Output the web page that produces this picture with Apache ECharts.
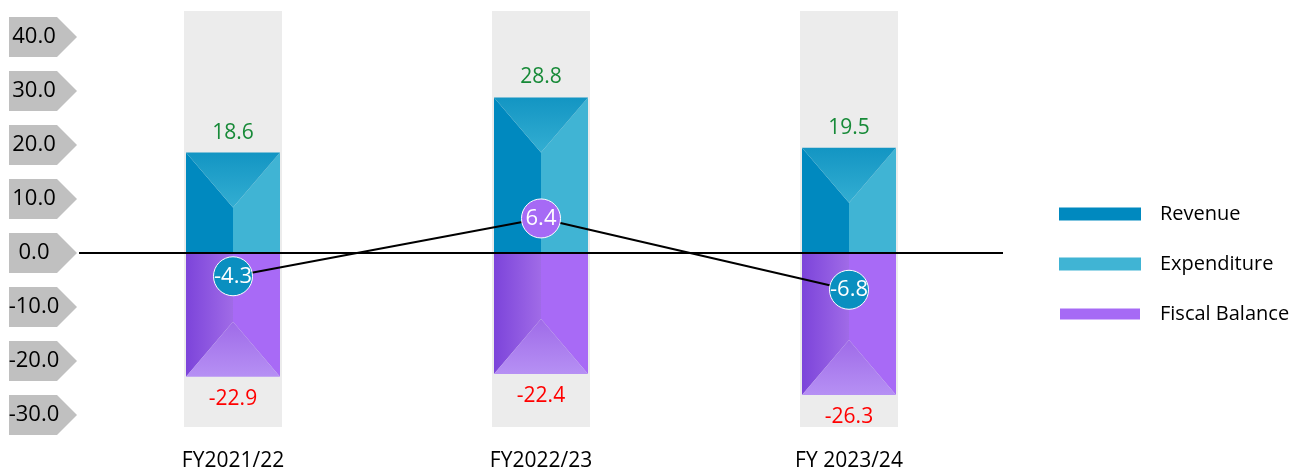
<!DOCTYPE html>
<html>
<head>
<meta charset="utf-8">
<script src="https://cdn.jsdelivr.net/npm/echarts@6/dist/echarts.min.js"></script>
<style>
  html, body { margin: 0; padding: 0; background: #fff; }
  #chart { width: 1305px; height: 476px; }
</style>
</head>
<body>
<div id="chart"></div>
<script>
var categories = ['FY2021/22', 'FY2022/23', 'FY 2023/24'];
var revenue = [18.6, 28.8, 19.5];
var expenditure = [-22.9, -22.4, -26.3];
var balance = [-4.3, 6.4, -6.8];
var yTicks = [-30, -20, -10, 0, 10, 20, 30, 40];

var FONT = 'Open Sans';
var Y_MIN = -32.2, Y_MAX = 44.8;

var chart = echarts.init(document.getElementById('chart'));

// 灰色背景柱
function renderBg(params, api) {
    var top = api.coord([api.value(0), Y_MAX]);
    var bot = api.coord([api.value(0), Y_MIN]);
    return {
        type: 'rect',
        shape: { x: top[0] - 49, y: top[1], width: 98, height: bot[1] - top[1] },
        style: { fill: '#ececec' }
    };
}

// 收入柱（上方）
function renderRevenue(params, api) {
    var p = api.coord([api.value(0), api.value(1)]);
    var z = api.coord([api.value(0), 0]);
    var cx = p[0], x0 = cx - 47, x1 = cx + 47, yT = p[1], yB = z[1];
    var d = Math.min(55, yB - yT);
    return {
        type: 'group',
        children: [
            { type: 'polygon', shape: { points: [[x0, yT], [cx, yT + d], [cx, yB], [x0, yB]] }, style: { fill: '#0089bf' } },
            { type: 'polygon', shape: { points: [[x1, yT], [x1, yB], [cx, yB], [cx, yT + d]] }, style: { fill: '#40b4d4' } },
            { type: 'polygon', shape: { points: [[x0, yT], [x1, yT], [cx, yT + d]] },
              style: { fill: new echarts.graphic.LinearGradient(0, 0, 0, 1, [
                  { offset: 0, color: '#1395c3' }, { offset: 1, color: '#33aed2' }]) } },
            { type: 'text', style: { x: cx, y: yT - 20, text: api.value(1).toFixed(1), fill: '#178a38',
                  font: '21px ' + FONT, align: 'center', verticalAlign: 'middle' } }
        ]
    };
}

// 支出柱（下方）
function renderExpenditure(params, api) {
    var p = api.coord([api.value(0), api.value(1)]);
    var z = api.coord([api.value(0), 0]);
    var cx = p[0], x0 = cx - 47, x1 = cx + 47, yT = z[1], yB = p[1];
    var d = Math.min(55, yB - yT);
    return {
        type: 'group',
        children: [
            { type: 'polygon', shape: { points: [[x0, yT], [cx, yT], [cx, yB - d], [x0, yB]] },
              style: { fill: new echarts.graphic.LinearGradient(0, 0, 1, 0, [
                  { offset: 0, color: '#7c44da' }, { offset: 1, color: '#a06be7' }]) } },
            { type: 'polygon', shape: { points: [[cx, yT], [x1, yT], [x1, yB], [cx, yB - d]] }, style: { fill: '#a86af6' } },
            { type: 'polygon', shape: { points: [[x0, yB], [x1, yB], [cx, yB - d]] },
              style: { fill: new echarts.graphic.LinearGradient(0, 0, 0, 1, [
                  { offset: 0, color: '#9f6be8' }, { offset: 1, color: '#b690f4' }]) } },
            { type: 'text', style: { x: cx, y: yB + 22, text: api.value(1).toFixed(1), fill: '#ff0000',
                  font: '21px ' + FONT, align: 'center', verticalAlign: 'middle' } }
        ]
    };
}

// 左侧箭头刻度
function renderTick(params, api) {
    var y = api.coord([0, api.value(1)])[1];
    return {
        type: 'group',
        children: [
            { type: 'polygon', shape: { points: [[9, y - 20], [57, y - 20], [77, y], [57, y + 20], [9, y + 20]] },
              style: { fill: '#c0c0c0' } },
            { type: 'text', style: { x: 34, y: y, text: api.value(1).toFixed(1), fill: '#000',
                  font: '22px ' + FONT, align: 'center', verticalAlign: 'middle' } }
        ]
    };
}

var option = {
    animation: false,
    textStyle: { fontFamily: FONT },
    grid: { left: 79, right: 302, top: 11, bottom: 49 },
    legend: {
        orient: 'vertical',
        left: 1058,
        top: 204,
        padding: 0,
        icon: 'rect',
        itemWidth: 82,
        itemHeight: 13,
        itemGap: 30,
        selectedMode: false,
        textStyle: { fontSize: 20, color: '#000', lineHeight: 20, padding: [0, 0, 0, 14] },
        data: [
            { name: 'Revenue', itemStyle: { color: '#0089bf' } },
            { name: 'Expenditure', itemStyle: { color: '#40b4d4' } },
            { name: 'Fiscal Balance', itemStyle: { color: '#a66af5' } }
        ]
    },
    xAxis: {
        type: 'category',
        data: categories,
        axisLine: { show: false },
        axisTick: { show: false },
        axisLabel: { fontSize: 21, color: '#000', margin: 24 }
    },
    yAxis: {
        type: 'value',
        min: Y_MIN,
        max: Y_MAX,
        axisLine: { show: false },
        axisTick: { show: false },
        axisLabel: { show: false },
        splitLine: { show: false }
    },
    series: [
        {
            name: 'bg', type: 'custom', z: 1, silent: true,
            renderItem: renderBg,
            data: categories.map(function(c, i) { return [i, Y_MAX]; })
        },
        {
            name: 'Revenue', type: 'custom', z: 2,
            itemStyle: { color: '#0089bf' },
            renderItem: renderRevenue,
            data: revenue.map(function(v, i) { return [i, v]; })
        },
        {
            name: 'Expenditure', type: 'custom', z: 2,
            itemStyle: { color: '#a86af6' },
            renderItem: renderExpenditure,
            data: expenditure.map(function(v, i) { return [i, v]; })
        },
        {
            name: 'Fiscal Balance', type: 'line', z: 4,
            data: balance,
            symbol: 'circle',
            symbolSize: 39,
            lineStyle: { color: '#000', width: 2 },
            itemStyle: {
                color: function(p) { return p.value < 0 ? '#0a8fc0' : '#a66af5'; },
                borderColor: '#fff',
                borderWidth: 1
            },
            label: {
                show: true, position: 'inside', color: '#fff', fontSize: 22,
                formatter: function(p) { return p.value.toFixed(1); }
            },
            markLine: {
                silent: true,
                symbol: ['none', 'none'],
                label: { show: false },
                lineStyle: { color: '#000', width: 2, type: 'solid' },
                data: [{ yAxis: 0 }]
            }
        },
        {
            name: 'ticks', type: 'custom', z: 1, silent: true,
            renderItem: renderTick,
            data: yTicks.map(function(v) { return [0, v]; })
        }
    ]
};

chart.setOption(option);
</script>
</body>
</html>
